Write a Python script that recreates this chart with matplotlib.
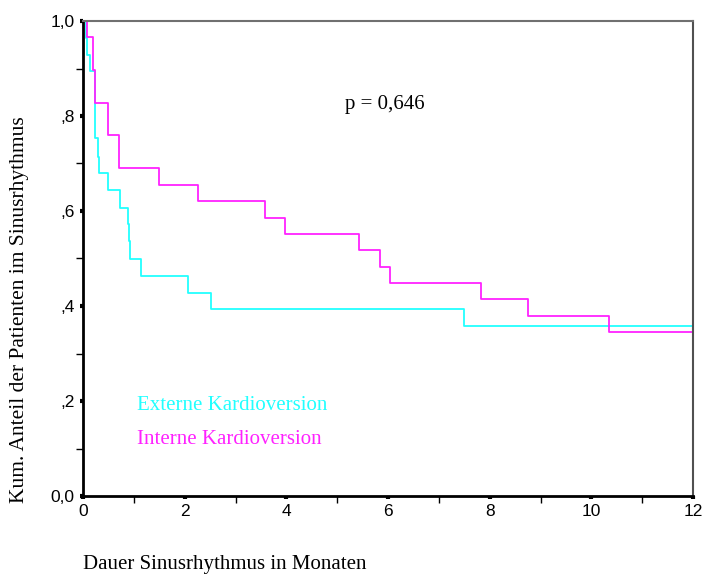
import matplotlib
matplotlib.use('Agg')
import matplotlib.pyplot as plt
from matplotlib.ticker import MultipleLocator

# Kaplan-Meier steps (Monate, kumulativer Anteil)
extern_t = [0, 0.05, 0.07, 0.14, 0.23, 0.29, 0.32, 0.485, 0.72, 0.88, 0.90, 0.93, 1.15, 2.06, 2.51, 7.49, 12]
extern_s = [1.0, 0.964, 0.928, 0.895, 0.753, 0.714, 0.679, 0.644, 0.606, 0.573, 0.537, 0.500, 0.464, 0.427, 0.394, 0.357, 0.357]

intern_t = [0, 0.08, 0.19, 0.23, 0.485, 0.70, 1.50, 2.27, 3.59, 3.97, 5.42, 5.85, 6.03, 7.82, 8.76, 10.35, 12]
intern_s = [1.0, 0.967, 0.897, 0.828, 0.759, 0.690, 0.655, 0.621, 0.586, 0.552, 0.517, 0.483, 0.448, 0.414, 0.379, 0.345, 0.345]

y_ticks = [0.0, 0.2, 0.4, 0.6, 0.8, 1.0]
y_labels = ['0,0', ',2', ',4', ',6', ',8', '1,0']
x_ticks = [0, 2, 4, 6, 8, 10, 12]

sans = 'Liberation Sans'
serif = 'Liberation Serif'

fig = plt.figure(figsize=(7.05, 5.77), dpi=100)
ax = fig.add_axes([83 / 705, 1 - 496 / 577, 610 / 705, 475 / 577])

ax.step(extern_t, extern_s, where='post', color='#22FFFF', lw=1.3)
ax.step(intern_t, intern_s, where='post', color='#FF22FF', lw=1.3)

ax.set_xlim(0, 12)
ax.set_ylim(0, 1.0)

# spines: left/bottom black, top/right grey
ax.spines['left'].set_linewidth(2)
ax.spines['bottom'].set_linewidth(2)
ax.spines['top'].set_color('#707070')
ax.spines['right'].set_color('#505050')
ax.spines['top'].set_linewidth(1.5)
ax.spines['right'].set_linewidth(1.5)

# ticks
ax.set_xticks(x_ticks)
ax.set_xticklabels([str(t) for t in x_ticks], fontfamily=sans, fontsize=12.5)
ax.set_yticks(y_ticks)
ax.set_yticklabels(y_labels, fontfamily=sans, fontsize=12.5)
ax.xaxis.set_minor_locator(MultipleLocator(1))
ax.yaxis.set_minor_locator(MultipleLocator(0.1))
ax.tick_params(which='major', direction='out', length=2, width=3, pad=4)
ax.tick_params(which='minor', direction='out', length=5, width=1)
ax.tick_params(top=False, right=False, which='both')

# texts
fig.text(385 / 705, 1 - 104 / 577, 'p = 0,646', fontfamily=serif, fontsize=15,
         ha='center', va='center')
fig.text(137 / 705, 1 - 405 / 577, 'Externe Kardioversion', fontfamily=serif,
         fontsize=15, color='#22FFFF', ha='left', va='center')
fig.text(137 / 705, 1 - 440 / 577, 'Interne Kardioversion', fontfamily=serif,
         fontsize=15, color='#FF22FF', ha='left', va='center')

fig.text(20 / 705, 1 - 310 / 577, 'Kum. Anteil der Patienten im Sinusrhythmus',
         fontfamily=serif, fontsize=15.5, rotation=90, ha='center', va='center')
fig.text(83 / 705, 1 - 565 / 577, 'Dauer Sinusrhythmus in Monaten',
         fontfamily=serif, fontsize=15, ha='left', va='center')

plt.savefig('out.png', dpi=100)
